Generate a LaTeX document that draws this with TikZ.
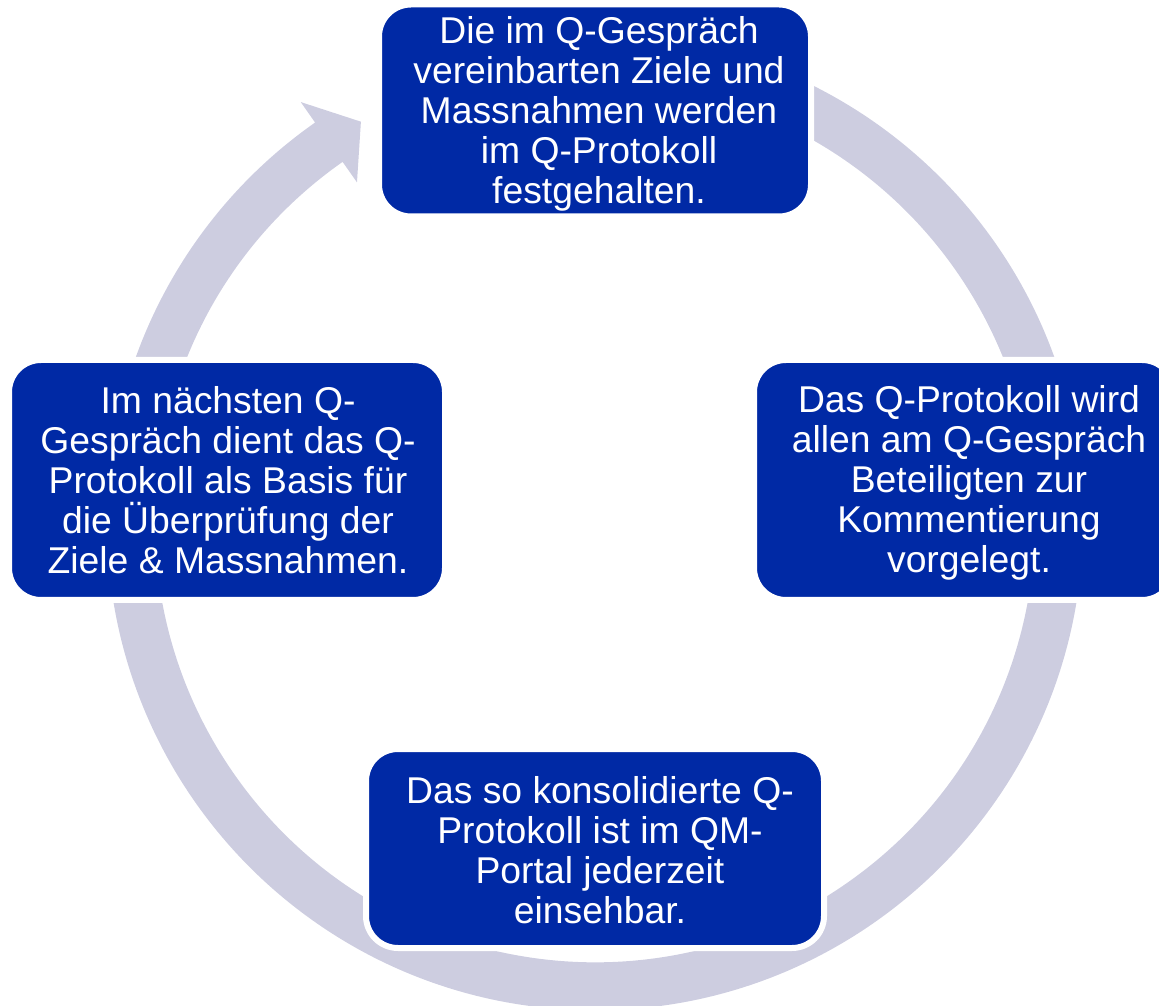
\documentclass[tikz,border=0pt]{standalone}
\usepackage{fontspec}
\setmainfont{Liberation Sans}
\definecolor{qblue}{RGB}{0,41,165}
\definecolor{qring}{RGB}{205,205,224}
\begin{document}
\begin{tikzpicture}[x=1pt,y=1pt,
  box/.style={fill=qblue, draw=white, line width=6pt, rounded corners=32pt, inner sep=0pt},
  boxtext/.style={text=white, align=center, inner sep=0pt,
    font=\fontsize{37.3}{40}\selectfont}]
\useasboundingbox (0,0) rectangle (1159,1005);
\clip (0,0) rectangle (1159,1005);
% ring with arrow head
\begin{scope}[shift={(595,482.7)}]
  \fill[qring] (90:488pt) arc[start angle=90, end angle=-235, radius=488pt]
    -- (-235:513pt) -- (-239.7:464pt) -- (-235:415pt) -- (-235:440pt)
    arc[start angle=-235, end angle=90, radius=440pt] -- cycle;
\end{scope}
% boxes
\node[box, minimum width=432pt, minimum height=212pt] (b1) at (595,894.5) {};
\node[box, minimum width=420pt, minimum height=240pt] (b2) at (964,525) {};
\node[box, minimum width=458pt, minimum height=199pt] (b3) at (595,156.5) {};
\node[box, minimum width=436pt, minimum height=240pt] (b4) at (227,525) {};
% texts
\node[boxtext] (t1) at ([xshift=4pt,yshift=-3pt]b1.center)
  {Die im Q-Gespräch\\vereinbarten Ziele und\\Massnahmen werden\\im Q-Protokoll\\festgehalten.};
\node[boxtext] (t2) at ([xshift=5pt,yshift=-3pt]b2.center)
  {Das Q-Protokoll wird\\allen am Q-Gespräch\\Beteiligten zur\\Kommentierung\\vorgelegt.};
\node[boxtext] (t3) at ([xshift=5pt,yshift=-2pt]b3.center)
  {Das so konsolidierte Q-\\Protokoll ist im QM-\\Portal jederzeit\\einsehbar.};
\node[boxtext] (t4) at ([xshift=1pt,yshift=0pt]b4.center)
  {Im nächsten Q-\\Gespräch dient das Q-\\Protokoll als Basis für\\die Überprüfung der\\Ziele \& Massnahmen.};
\end{tikzpicture}
\end{document}
